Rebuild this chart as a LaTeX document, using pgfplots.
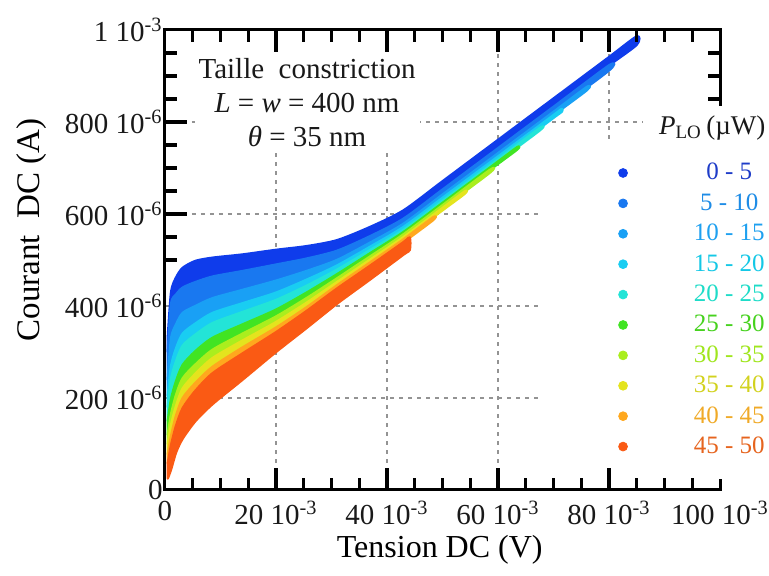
\documentclass[border=0pt]{standalone}
\usepackage{fontspec}
\setmainfont{Liberation Serif}
\usepackage{pgfplots}
\pgfplotsset{compat=1.18}
% band fill colours
\definecolor{c0}{RGB}{15,60,235}
\definecolor{c1}{RGB}{25,120,240}
\definecolor{c2}{RGB}{25,160,245}
\definecolor{c3}{RGB}{25,205,242}
\definecolor{c4}{RGB}{35,228,215}
\definecolor{c5}{RGB}{65,228,35}
\definecolor{c6}{RGB}{170,238,30}
\definecolor{c7}{RGB}{228,228,30}
\definecolor{c8}{RGB}{255,168,30}
\definecolor{c9}{RGB}{250,90,20}
% legend text colours
\definecolor{t0}{RGB}{30,60,200}
\definecolor{t1}{RGB}{30,140,230}
\definecolor{t2}{RGB}{30,160,240}
\definecolor{t3}{RGB}{20,200,230}
\definecolor{t4}{RGB}{30,220,200}
\definecolor{t5}{RGB}{70,210,30}
\definecolor{t6}{RGB}{160,230,30}
\definecolor{t7}{RGB}{210,210,30}
\definecolor{t8}{RGB}{240,170,40}
\definecolor{t9}{RGB}{230,100,30}
\pgfplotsset{band/.style={fill=#1, draw=#1, line width=1.2pt, line join=round, smooth, tension=0.45, forget plot}}
\begin{document}
\begin{tikzpicture}
\useasboundingbox (-82.5pt,-43pt) rectangle (302pt,245pt);
\begin{axis}[
  at={(0pt,0pt)}, anchor=south west,
  width=277.5pt, height=230pt, scale only axis,
  xmin=0, xmax=100, ymin=0, ymax=1000,
  xtick={0,20,40,60,80,100}, ytick={0,200,400,600,800,1000},
  xticklabels={0,{20 10\textsuperscript{-3}},{40 10\textsuperscript{-3}},{60 10\textsuperscript{-3}},{80 10\textsuperscript{-3}},{100 10\textsuperscript{-3}}},
  yticklabels={0,{200 10\textsuperscript{-6}},{400 10\textsuperscript{-6}},{600 10\textsuperscript{-6}},{800 10\textsuperscript{-6}},{1 10\textsuperscript{-3}}},
  tick align=inside,
  major tick length=0pt,
  axis line style={line width=1.5pt},
  tick label style={font=\fontsize{14.5}{17}\selectfont, text=black!90},
  yticklabel style={inner xsep=1pt},
  xticklabel style={yshift=-2pt},
  grid=major,
  major grid style={gray!85, line width=0.7pt, dash pattern=on 2pt off 2.5pt},
  clip mode=individual,
  xlabel={Tension DC (V)},
  ylabel={Courant\ \ DC (A)},
  xlabel style={font=\fontsize{16}{19}\selectfont, at={(axis description cs:0.495,-0.13)}, anchor=center},
  ylabel style={font=\fontsize{16.5}{19}\selectfont, at={(axis description cs:-0.24,0.565)}, anchor=center},
  legend image code/.code={\fill[#1] (0pt,0.5pt) circle (2.2pt);},
  legend cell align=center,
  legend style={at={(axis description cs:0.679,0.757)}, anchor=north west,
    fill=white, draw=none, inner xsep=38pt, inner ysep=8.5pt,
    font=\fontsize{12.5}{14}\selectfont,
    nodes={inner xsep=0pt, inner ysep=1.4pt, text height=9pt, text depth=3pt},
    /tikz/every odd column/.append style={column sep=33pt},
    row sep=0.4pt},
]
% band 0-5
\addplot[band=c0] coordinates {
(0.5,330)(1.1,430)(2,462)(3.2,483)(5.5,498)(8.6,505)(14,512)(20,522)(25.5,530)(31,543)(37,572)(43,608)(50,671)(60,761)(70,851)(80,941)(85,986)
(85,968)(80,923)(70,833)(60,743)(50,653)(43,590)(37,552)(31,520)(25.5,503)(20,490)(14,476)(8.6,464)(5.5,452)(3.2,440)(2,425)(1.1,405)(0.5,300)} -- cycle;
% band 5-10
\addplot[band=c1] coordinates {
(0.5,300)(1.1,405)(2,425)(3.2,440)(5.5,452)(8.6,464)(14,476)(20,490)(25.5,503)(31,520)(37,552)(43,590)(50,653)(60,743)(70,833)(80,923)
(80,912)(70,822)(60,732)(50,642)(43,579)(37,538)(31,500)(25.5,476)(20,455)(14,435)(8.6,417)(5.5,400)(3.2,385)(2,360)(1.1,330)(0.5,240)} -- cycle;
% band 10-15
\addplot[band=c2] coordinates {
(0.5,240)(1.1,330)(2,360)(3.2,385)(5.5,400)(8.6,417)(14,435)(20,455)(25.5,476)(31,500)(37,538)(43,579)(50,642)(60,732)(70,822)(76,876)
(76,869)(70,815)(60,725)(50,635)(43,572)(37,529)(31,488)(25.5,457)(20,429)(14,406)(8.6,385)(5.5,362)(3.2,340)(2,308)(1.1,270)(0.5,205)} -- cycle;
% band 15-20
\addplot[band=c3] coordinates {
(0.5,205)(1.1,270)(2,308)(3.2,340)(5.5,362)(8.6,385)(14,406)(20,429)(25.5,457)(31,488)(37,529)(43,572)(50,635)(60,725)(70,815)(71.5,828.5)
(71.5,822.5)(70,809)(60,719)(50,629)(43,566)(37,522)(31,479)(25.5,444)(20,413)(14,387)(8.6,363)(5.5,338)(3.2,314)(2,280)(1.1,242)(0.5,180)} -- cycle;
% band 20-25
\addplot[band=c4] coordinates {
(0.5,180)(1.1,242)(2,280)(3.2,314)(5.5,338)(8.6,363)(14,387)(20,413)(25.5,444)(31,479)(37,522)(43,566)(50,629)(60,719)(67.5,786.5)
(67.5,781.5)(60,714)(50,624)(43,561)(37,515)(31,469)(25.5,429)(20,392)(14,360)(8.6,331)(5.5,302)(3.2,272)(2,237)(1.1,198)(0.5,150)} -- cycle;
% band 25-30
\addplot[band=c5] coordinates {
(0.5,150)(1.1,198)(2,237)(3.2,272)(5.5,302)(8.6,331)(14,360)(20,392)(25.5,429)(31,469)(37,515)(43,561)(50,624)(60,714)(63.5,745.5)
(63.5,740.5)(60,709)(50,619)(43,556)(37,508)(31,460)(25.5,417)(20,377)(14,340)(8.6,305)(5.5,273)(3.2,243)(2,207)(1.1,165)(0.5,120)} -- cycle;
% band 30-35
\addplot[band=c6] coordinates {
(0.5,120)(1.1,165)(2,207)(3.2,243)(5.5,273)(8.6,305)(14,340)(20,377)(25.5,417)(31,460)(37,508)(43,556)(50,619)(58.5,695.5)
(58.5,689.5)(50,613)(43,550)(37,501)(31,452)(25.5,407)(20,365)(14,325)(8.6,287)(5.5,253)(3.2,221)(2,183)(1.1,142)(0.5,100)} -- cycle;
% band 35-40
\addplot[band=c7] coordinates {
(0.5,100)(1.1,142)(2,183)(3.2,221)(5.5,253)(8.6,287)(14,325)(20,365)(25.5,407)(31,452)(37,501)(43,550)(50,613)(54,649)
(54,644)(50,608)(43,545)(37,495)(31,445)(25.5,397)(20,353)(14,310)(8.6,268)(5.5,233)(3.2,200)(2,162)(1.1,118)(0.5,78)} -- cycle;
% band 40-45
\addplot[band=c8] coordinates {
(0.5,78)(1.1,118)(2,162)(3.2,200)(5.5,233)(8.6,268)(14,310)(20,353)(25.5,397)(31,445)(37,495)(43,545)(48.3,592.7)
(48.3,586.7)(43,539)(37,488)(31,438)(25.5,389)(20,343)(14,297)(8.6,254)(5.5,216)(3.2,178)(2,140)(1.1,98)(0.5,58)} -- cycle;
% band 45-50
\addplot[band=c9] coordinates {
(0.5,58)(1.1,98)(2,140)(3.2,178)(5.5,216)(8.6,254)(14,297)(20,343)(25.5,389)(31,438)(37,488)(43,539)(44.1,548.9)
(44.1,521.9)(43,512)(37,458)(31,405)(25.5,352)(20,300)(14,240)(8.6,187)(5.5,150)(3.2,112)(2,82)(1.1,45)(0.5,25)} -- cycle;
% legend
\addlegendimage{c0}\addlegendentry{\textcolor{t0}{0 - 5}}
\addlegendimage{c1}\addlegendentry{\textcolor{t1}{5 - 10}}
\addlegendimage{c2}\addlegendentry{\textcolor{t2}{10 - 15}}
\addlegendimage{c3}\addlegendentry{\textcolor{t3}{15 - 20}}
\addlegendimage{c4}\addlegendentry{\textcolor{t4}{20 - 25}}
\addlegendimage{c5}\addlegendentry{\textcolor{t5}{25 - 30}}
\addlegendimage{c6}\addlegendentry{\textcolor{t6}{30 - 35}}
\addlegendimage{c7}\addlegendentry{\textcolor{t7}{35 - 40}}
\addlegendimage{c8}\addlegendentry{\textcolor{t8}{40 - 45}}
\addlegendimage{c9}\addlegendentry{\textcolor{t9}{45 - 50}}
% annotations
\node[fill=white, align=center, inner xsep=2pt, inner ysep=3pt, font=\fontsize{14.5}{17}\selectfont, text=black!90]
  at (axis cs:25.6,843) {Taille\ \ constriction\\ \textit{L} = \textit{w} = 400 nm\\ \textit{θ} = 35 nm};
\coordinate (ttl) at (axis cs:98.6,787);
\end{axis}
\node[fill=white, inner xsep=8pt, inner ysep=5pt, font=\fontsize{13.5}{16}\selectfont, text=black!90]
  at (ttl) {\textit{P}\textsubscript{LO}\,(µW)};
% inward tick marks of the frame (axis box: 277.5pt x 230pt; 2.775pt per mV, 0.23pt per uA)
\begin{scope}[line width=1.6pt, draw=black]
\foreach \xx in {5,10,15,25,30,35,45,50,55,65,70,75,85,90,95} {
  \draw (\xx*2.775pt,0pt) -- ++(0pt,6pt);
  \draw (\xx*2.775pt,230pt) -- ++(0pt,-6pt);
}
\foreach \xx in {20,40,60,80} {
  \draw (\xx*2.775pt,0pt) -- ++(0pt,11pt);
  \draw (\xx*2.775pt,230pt) -- ++(0pt,-11pt);
}
\foreach \yy in {500,550,650,700,750,850,900,950} {
  \draw (0pt,\yy*0.23pt) -- ++(6pt,0pt);
}
\foreach \yy in {600,800} {
  \draw (0pt,\yy*0.23pt) -- ++(11pt,0pt);
}
\foreach \yy in {850,900,950} {
  \draw (277.5pt,\yy*0.23pt) -- ++(-6pt,0pt);
}
\end{scope}
\end{tikzpicture}
\end{document}
